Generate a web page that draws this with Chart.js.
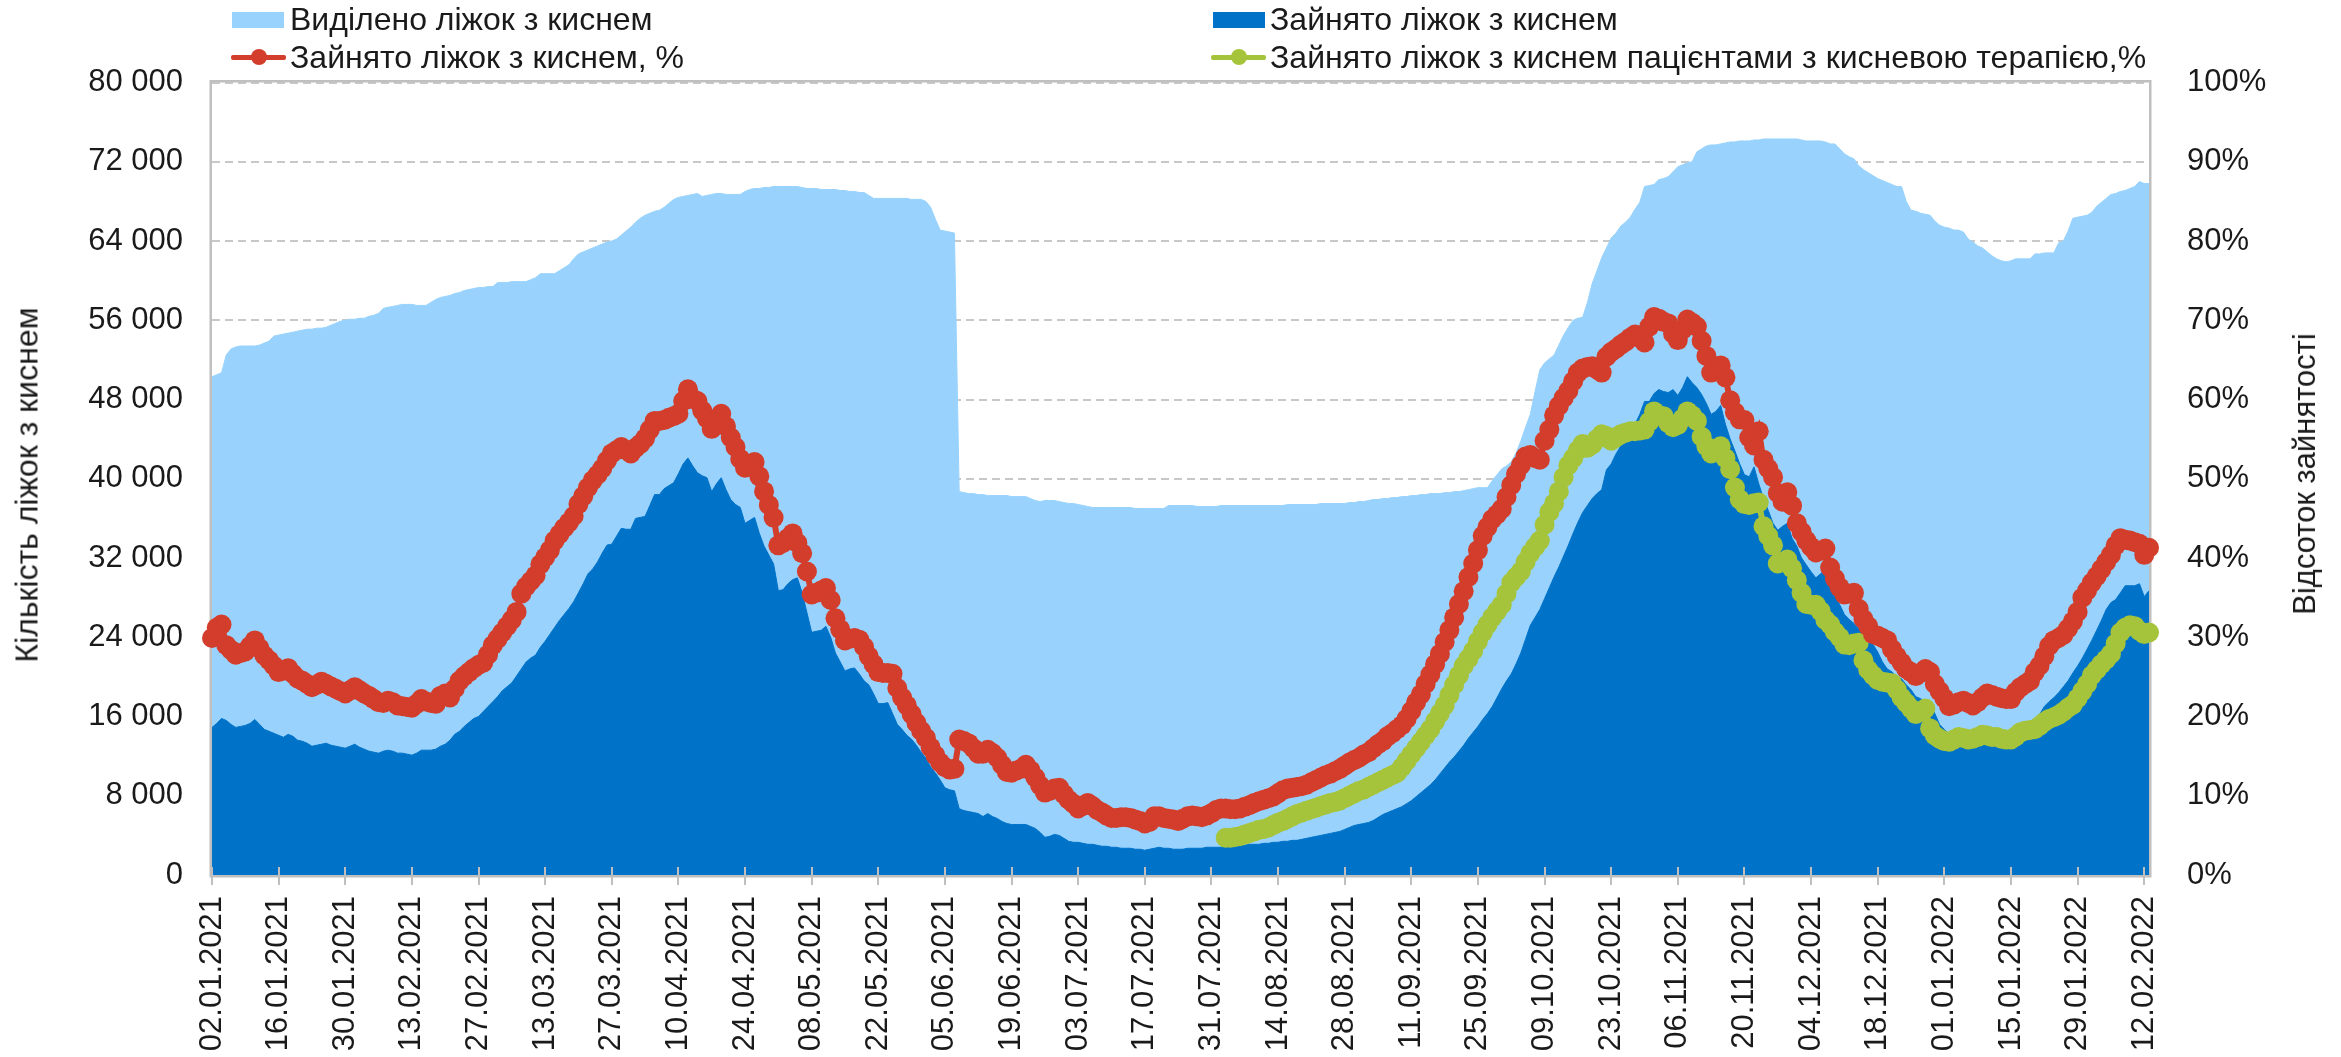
<!DOCTYPE html>
<html lang="uk">
<head>
<meta charset="utf-8">
<title>Ліжка з киснем</title>
<script src="https://cdn.jsdelivr.net/npm/chart.js@4.4.2/dist/chart.umd.min.js"></script>
<style>
  html, body { margin: 0; padding: 0; background: #fff; overflow: hidden; }
  #wrap { position: relative; width: 2341px; height: 1057px; font-family: 'Liberation Sans', Arial, sans-serif; color: #1a1a1a; }
  #chart { position: absolute; left: 0; top: 0; }
  .legend-item { position: absolute; height: 36px; display: flex; align-items: center; font-size: 32px; white-space: nowrap; }
  .swatch { width: 52px; height: 16px; margin-right: 6px; }
  .marker { position: relative; width: 55px; height: 16px; margin-right: 4px; }
  .marker::before { content: ''; position: absolute; left: 0; right: 0; top: 5.5px; height: 5px; border-radius: 2px; background: currentColor; }
  .marker::after { content: ''; position: absolute; left: 19.5px; top: 0; width: 16px; height: 16px; border-radius: 50%; background: currentColor; }
  .axis-title { position: absolute; white-space: nowrap; transform: translate(-50%, -50%) rotate(-90deg); }
</style>
</head>
<body>
<div id="wrap">
  <canvas id="chart" width="2341" height="1057"></canvas>
  <div class="legend-item" style="left:232px; top:1.5px;"><span class="swatch" style="background:#99d3fd"></span>Виділено ліжок з киснем</div>
  <div class="legend-item" style="left:231px; top:39px;"><span class="marker" style="color:#d33d2b"></span>Зайнято ліжок з киснем, %</div>
  <div class="legend-item" style="left:1213px; top:1.5px;"><span class="swatch" style="background:#0073c9; margin-right:5px"></span>Зайнято ліжок з киснем</div>
  <div class="legend-item" style="left:1211px; top:39px;"><span class="marker" style="color:#a6c43b"></span>Зайнято ліжок з киснем пацієнтами з кисневою терапією,%</div>
  <div class="axis-title" style="left:27px; top:485px; font-size:32px;">Кількість ліжок з киснем</div>
  <div class="axis-title" style="left:2305px; top:474px; font-size:31px;">Відсоток зайнятості</div>
</div>
<script>
const START_DAY = { year: 2021, month: 0, day: 2 };
const N_DAYS = 408;
const TICK_EVERY = 14;

// beds with oxygen supply, allocated
const allocatedBeds = [
  50300, 50500, 50700, 52500, 53100, 53300, 53400, 53400, 53400, 53400, 53500, 53700, 53900, 54400,
  54500, 54600, 54700, 54800, 54900, 55000, 55100, 55100, 55200, 55200, 55300, 55500, 55700, 55900,
  56000, 56100, 56100, 56200, 56200, 56400, 56500, 56700, 57200, 57300, 57400, 57500, 57600, 57600,
  57600, 57500, 57500, 57500, 57800, 58100, 58300, 58400, 58500, 58700, 58800, 59000, 59100, 59200,
  59300, 59300, 59400, 59400, 59800, 59800, 59800, 59900, 59900, 59900, 59900, 60100, 60300, 60700,
  60700, 60700, 60700, 61000, 61300, 61600, 62200, 62700, 62900, 63100, 63300, 63500, 63700, 63900,
  64000, 64200, 64600, 65000, 65400, 65900, 66300, 66600, 66800, 67000, 67100, 67400, 67800, 68200,
  68400, 68500, 68600, 68700, 68800, 68500, 68600, 68700, 68800, 68800, 68700, 68700, 68700, 68700,
  69000, 69200, 69300, 69300, 69400, 69400, 69500, 69500, 69500, 69500, 69500, 69500, 69400, 69300,
  69300, 69300, 69200, 69200, 69200, 69200, 69100, 69100, 69000, 69000, 68900, 68900, 68600, 68300,
  68300, 68300, 68300, 68300, 68300, 68300, 68300, 68200, 68200, 68200, 68000, 67400, 66200, 65100,
  65000, 64900, 64800, 38700, 38600, 38500, 38500, 38400, 38400, 38300, 38300, 38300, 38300, 38300,
  38200, 38200, 38200, 38200, 38000, 37800, 37700, 37800, 37800, 37800, 37700, 37600, 37500, 37500,
  37400, 37300, 37200, 37100, 37100, 37100, 37100, 37100, 37100, 37100, 37100, 37100, 37000, 37000,
  37000, 37000, 37000, 37000, 37000, 37300, 37300, 37300, 37300, 37300, 37300, 37200, 37200, 37200,
  37200, 37200, 37300, 37300, 37300, 37300, 37300, 37300, 37300, 37300, 37300, 37300, 37300, 37300,
  37300, 37300, 37400, 37400, 37400, 37400, 37400, 37400, 37400, 37500, 37500, 37500, 37500, 37500,
  37500, 37600, 37600, 37700, 37700, 37800, 37900, 37900, 38000, 38000, 38100, 38100, 38200, 38200,
  38300, 38300, 38400, 38400, 38500, 38500, 38500, 38600, 38600, 38700, 38700, 38800, 38900, 39000,
  39100, 39100, 39100, 39800, 40400, 41000, 41300, 41700, 42600, 43800, 45200, 46500, 48800, 51000,
  51700, 52100, 52500, 53500, 54500, 55300, 56000, 56200, 56300, 57800, 59700, 61000, 62300, 63300,
  64300, 64800, 65500, 65900, 66400, 67200, 67900, 69500, 69600, 69700, 70200, 70300, 70500, 71000,
  71500, 71700, 71900, 72000, 73000, 73300, 73600, 73700, 73700, 73800, 73900, 74000, 74000, 74100,
  74100, 74100, 74200, 74200, 74300, 74300, 74300, 74300, 74300, 74300, 74300, 74300, 74200, 74100,
  74100, 74100, 74100, 74000, 73800, 73800, 73300, 72800, 72500, 72300, 71600, 71200, 70900, 70600,
  70300, 70100, 69900, 69700, 69500, 69500, 68000, 67100, 67000, 66800, 66700, 66600, 66000, 65600,
  65400, 65300, 65100, 65100, 64900, 64200, 63900, 63500, 63300, 62900, 62500, 62200, 62000, 61900,
  62000, 62200, 62200, 62200, 62200, 62700, 62700, 62800, 62800, 62800, 63800, 64000, 65000, 66300,
  66400, 66500, 66600, 66900, 67500, 67900, 68300, 68700, 68800, 69000, 69100, 69300, 69500, 70000,
  69800, 69800
];

// beds with oxygen supply, occupied
const occupiedBeds = [
  14900, 15300, 15800, 15600, 15200, 14900, 15000, 15100, 15300, 15700, 15200, 14700, 14500, 14300,
  14100, 13900, 14200, 14000, 13600, 13500, 13300, 13000, 13100, 13200, 13300, 13100, 13000, 12900,
  12800, 13000, 13200, 12900, 12700, 12500, 12400, 12300, 12500, 12600, 12500, 12300, 12300, 12200,
  12100, 12300, 12600, 12600, 12600, 12700, 13000, 13200, 13600, 14200, 14500, 15000, 15400, 15800,
  16000, 16500, 17000, 17500, 18000, 18600, 19000, 19400, 20100, 20800, 21500, 21900, 22200, 23000,
  23600, 24300, 25000, 25700, 26300, 26900, 27600, 28500, 29400, 30400, 30900, 31600, 32500, 33300,
  33400, 34200, 35000, 34900, 34900, 36000, 36100, 36200, 37300, 38400, 38400, 39000, 39300, 39600,
  40500, 41500, 42100, 41300, 40600, 40300, 40100, 38700, 39500, 40100, 38900, 37900, 37400, 37100,
  35500, 35800, 36100, 34500, 33200, 32300, 31400, 28700, 28800, 29400, 29800, 30000, 28500, 26500,
  24500, 24600, 24700, 25100, 24000, 22400, 21500, 20600, 20800, 20900, 20300, 19600, 19200, 18300,
  17300, 17300, 17400, 16300, 15200, 14700, 14100, 13700, 13100, 12400, 11800, 10900, 10300, 9600,
  8800, 8600, 8500, 6700, 6500, 6400, 6300, 6200, 5900, 6200, 5900, 5700, 5400, 5200,
  5100, 5100, 5100, 5100, 4900, 4700, 4300, 3800, 3900, 4100, 4000, 3700, 3400, 3300,
  3300, 3200, 3100, 3100, 3000, 2900, 2900, 2800, 2800, 2700, 2700, 2700, 2600, 2600,
  2500, 2600, 2700, 2800, 2700, 2700, 2600, 2600, 2600, 2700, 2700, 2700, 2700, 2800,
  2800, 2800, 2800, 2900, 2900, 2900, 3000, 3000, 3100, 3100, 3100, 3200, 3200, 3300,
  3300, 3400, 3400, 3500, 3500, 3600, 3700, 3800, 3900, 4000, 4100, 4200, 4300, 4400,
  4600, 4800, 5000, 5100, 5200, 5300, 5500, 5800, 6100, 6300, 6500, 6700, 6900, 7200,
  7500, 7900, 8300, 8700, 9100, 9600, 10200, 10800, 11400, 11900, 12500, 13100, 13800, 14400,
  15000, 15700, 16300, 17000, 17900, 18800, 19600, 20300, 21300, 22400, 23800, 25200, 26000, 26800,
  27900, 29000, 30100, 31100, 32200, 33300, 34500, 35600, 36600, 37300, 38000, 38500, 38900, 40900,
  41500, 42500, 43300, 44300, 44900, 45500, 46500, 47800, 47800, 48600, 49000, 48800, 48700, 49000,
  48400, 49200, 50300, 49700, 49200, 48500, 47600, 46500, 46800, 47400, 45500, 44000, 42800, 41500,
  40400, 40200, 41200, 39500, 38000, 36800, 35500, 34800, 35200, 35500, 34000, 33200, 32000, 31300,
  30600, 30000, 30400, 30900, 29500, 28300, 27300, 26300, 25800, 25400, 24900, 24500, 23900, 23300,
  22500, 21500, 20800, 20500, 20000, 19800, 19200, 18700, 18000, 17800, 17500, 17300, 16300, 15200,
  14700, 14200, 14100, 13900, 13900, 14100, 14300, 14400, 14000, 13800, 14000, 14200, 14400, 14100,
  13900, 13900, 14500, 15300, 15500, 15800, 16200, 17000, 17500, 17900, 18400, 19000, 19600, 20400,
  21100, 21900, 22800, 23700, 24700, 25700, 26800, 27500, 27800, 28500, 29200, 29200, 29200, 29400,
  28100, 28700
];

// occupancy of beds with oxygen, %
const occupiedPct = [
  29.9, 31.2, 31.6, 29.0, 28.4, 27.8, 28.0, 28.2, 28.9, 29.6, 28.6, 27.7, 27.1, 26.4,
  25.6, 25.8, 26.1, 25.4, 24.8, 24.5, 24.1, 23.7, 24.0, 24.4, 24.1, 23.8, 23.5, 23.2,
  22.9, 23.3, 23.7, 23.3, 22.9, 22.6, 22.2, 21.8, 21.7, 22.0, 21.8, 21.4, 21.3, 21.2,
  21.1, 21.6, 22.2, 21.9, 21.7, 21.6, 22.6, 22.9, 22.4, 23.5, 24.5, 25.1, 25.6, 26.1,
  26.5, 26.8, 27.8, 29.0, 29.8, 30.6, 31.4, 32.2, 33.2, 35.5, 36.4, 37.1, 37.8, 39.2,
  40.1, 41.0, 42.2, 43.0, 43.8, 44.5, 45.3, 46.8, 47.8, 48.9, 49.8, 50.5, 51.3, 52.3,
  53.2, 53.6, 54.0, 53.6, 53.2, 53.9, 54.4, 55.1, 56.2, 57.3, 57.3, 57.4, 57.7, 57.9,
  58.2, 59.8, 61.3, 60.1, 59.8, 58.6, 57.6, 56.3, 57.3, 58.2, 56.6, 55.2, 54.0, 52.5,
  51.4, 51.6, 52.1, 50.3, 48.4, 46.7, 45.1, 41.6, 41.9, 42.5, 43.1, 41.9, 40.6, 38.3,
  35.4, 35.6, 35.9, 36.2, 34.7, 32.4, 31.0, 29.6, 29.8, 29.9, 29.7, 28.8, 27.6, 26.6,
  25.6, 25.5, 25.5, 25.4, 23.6, 22.4, 21.4, 20.3, 19.2, 18.2, 17.3, 16.1, 15.1, 14.2,
  13.6, 13.3, 13.4, 17.1, 16.9, 16.6, 16.0, 15.3, 15.3, 15.8, 15.4, 14.8, 13.9, 13.0,
  12.9, 13.2, 13.4, 13.9, 13.2, 12.3, 11.3, 10.4, 10.6, 10.9, 11.0, 10.2, 9.5, 9.0,
  8.4, 8.7, 9.1, 8.7, 8.2, 7.9, 7.5, 7.2, 7.2, 7.3, 7.3, 7.2, 7.0, 6.8,
  6.5, 6.7, 7.4, 7.4, 7.2, 7.1, 7.0, 6.8, 7.1, 7.4, 7.5, 7.4, 7.3, 7.5,
  7.8, 8.2, 8.4, 8.4, 8.3, 8.3, 8.4, 8.6, 8.8, 9.1, 9.3, 9.5, 9.7, 9.9,
  10.3, 10.7, 10.9, 11.0, 11.1, 11.2, 11.4, 11.7, 12.0, 12.3, 12.6, 12.8, 13.1, 13.4,
  13.8, 14.2, 14.5, 14.8, 15.2, 15.5, 16.0, 16.5, 16.9, 17.5, 17.9, 18.4, 18.9, 19.7,
  20.7, 21.8, 22.8, 24.1, 25.3, 26.6, 27.9, 29.4, 30.9, 32.5, 34.2, 35.8, 37.6, 39.3,
  41.0, 42.8, 43.9, 44.9, 45.5, 46.2, 47.7, 49.2, 50.6, 51.7, 52.8, 53.0, 52.6, 52.4,
  54.8, 56.2, 58.0, 59.2, 60.2, 61.1, 62.3, 63.4, 63.9, 64.1, 64.2, 63.8, 63.4, 65.4,
  66.0, 66.4, 66.9, 67.3, 67.8, 68.2, 67.8, 67.2, 69.2, 70.4, 70.2, 69.8, 69.6, 68.3,
  67.5, 68.8, 70.1, 69.7, 69.2, 67.4, 65.5, 63.4, 63.8, 64.3, 62.8, 59.9, 58.4, 57.5,
  57.4, 55.2, 54.2, 56.0, 52.4, 51.3, 50.2, 48.2, 47.1, 48.3, 46.6, 44.4, 43.3, 42.2,
  41.4, 40.7, 40.9, 41.2, 38.8, 37.4, 36.3, 35.4, 35.5, 35.6, 33.6, 32.3, 31.4, 30.4,
  30.2, 29.9, 29.6, 28.5, 27.6, 26.8, 26.0, 25.6, 25.1, 25.5, 26.0, 25.6, 24.1, 23.2,
  22.3, 21.3, 21.5, 21.8, 22.0, 21.7, 21.4, 21.8, 22.4, 22.9, 22.7, 22.5, 22.3, 22.2,
  22.2, 23.1, 23.7, 24.1, 24.5, 25.6, 26.4, 27.6, 28.9, 29.6, 29.9, 30.3, 31.1, 32.0,
  33.2, 35.0, 35.9, 36.9, 37.7, 38.6, 39.5, 40.4, 41.6, 42.5, 42.3, 42.2, 42.0, 41.8,
  40.4, 41.3
];

// occupied by patients on oxygen therapy, %; reported from 03.08.2021 (day index 213)
const OXYGEN_FIRST_DAY = 213;
const oxygenTherapyPct = [
  4.7, 4.7, 4.8, 4.9, 5.1, 5.3, 5.5, 5.7, 5.8, 6.0, 6.3,
  6.6, 6.8, 7.1, 7.4, 7.7, 7.9, 8.1, 8.3, 8.5, 8.7, 8.9, 9.1, 9.2, 9.4,
  9.7, 10.0, 10.3, 10.6, 10.8, 11.1, 11.4, 11.7, 12.0, 12.3, 12.6, 12.9, 13.6, 14.4,
  15.2, 16.0, 16.8, 17.6, 18.4, 19.4, 20.4, 21.4, 22.7, 24.0, 25.2, 26.4, 27.3, 28.3,
  29.5, 30.6, 31.6, 32.5, 33.3, 34.1, 35.5, 36.9, 37.6, 38.3, 39.5, 40.6, 41.4, 42.2,
  44.2, 45.8, 46.9, 48.4, 50.2, 51.7, 52.6, 53.6, 54.4, 53.9, 54.3, 55.0, 55.6, 55.4,
  54.8, 55.2, 55.6, 55.8, 56.0, 56.0, 56.1, 56.2, 57.2, 58.5, 58.0, 57.9, 57.0, 56.5,
  56.8, 57.6, 58.5, 58.0, 57.3, 55.3, 54.1, 53.2, 53.5, 54.1, 52.6, 51.2, 48.9, 47.4,
  46.8, 46.7, 46.9, 47.0, 44.0, 42.8, 41.6, 39.3, 39.5, 39.8, 38.7, 37.2, 35.6, 34.2,
  34.1, 34.1, 33.3, 32.2, 31.6, 30.7, 30.0, 29.1, 29.0, 29.2, 29.3, 27.1, 25.9, 25.2,
  24.6, 24.4, 24.3, 24.2, 23.4, 22.4, 21.7, 21.0, 20.3, 20.6, 21.0, 18.5, 17.6, 17.2,
  16.9, 16.8, 17.1, 17.4, 17.3, 17.1, 17.2, 17.4, 17.7, 17.6, 17.4, 17.4, 17.2, 17.1,
  17.1, 17.5, 18.0, 18.2, 18.3, 18.4, 18.8, 19.3, 19.7, 19.9, 20.2, 20.6, 21.1, 21.5,
  22.3, 23.2, 24.1, 25.2, 25.9, 26.6, 27.2, 27.9, 29.2, 30.6, 31.2, 31.5, 31.4, 30.8,
  30.4, 30.6
];

const COLORS = {
  allocated: '#99d3fd',
  occupied: '#0073c9',
  occupiedPct: '#d33d2b',
  oxygenPct: '#a6c43b',
  frame: '#bfbfbf',
  grid: '#c8c8c8',
  text: '#1a1a1a'
};
const TICK_FONT = { family: "'Liberation Sans', Arial, sans-serif", size: 31 };

const pad2 = n => String(n).padStart(2, '0');
const labels = [];
for (let i = 0; i < N_DAYS; i++) {
  const d = new Date(START_DAY.year, START_DAY.month, START_DAY.day + i);
  labels.push(`${pad2(d.getDate())}.${pad2(d.getMonth() + 1)}.${d.getFullYear()}`);
}
const oxygenSeries = labels.map((_, i) => i < OXYGEN_FIRST_DAY ? null : oxygenTherapyPct[i - OXYGEN_FIRST_DAY]);

const thousands = v => String(v).replace(/\B(?=(\d{3})+(?!\d))/g, ' ');

// plot frame behind the lines, and tick marks crossing the date axis
const frame = {
  id: 'frame',
  beforeDatasetsDraw(chart) {
    const { ctx, chartArea: a } = chart;
    ctx.save();
    ctx.strokeStyle = COLORS.frame;
    ctx.lineWidth = 2.5;
    ctx.strokeRect(a.left - 1.25, a.top - 1.25, a.right - a.left + 2.5, a.bottom - a.top + 2.5);
    ctx.restore();
  },
  afterDatasetsDraw(chart) {
    const { ctx, chartArea: a, scales: { x } } = chart;
    ctx.save();
    ctx.strokeStyle = COLORS.frame;
    ctx.lineWidth = 2;
    ctx.beginPath();
    for (let i = 0; i < labels.length; i += TICK_EVERY) {
      const px = Math.round(x.getPixelForValue(i));
      ctx.moveTo(px, a.bottom - 8);
      ctx.lineTo(px, a.bottom + 10);
    }
    ctx.stroke();
    ctx.restore();
  }
};

const lineDataset = (label, data, color, order) => ({
  label,
  data,
  yAxisID: 'y1',
  borderColor: color,
  backgroundColor: color,
  borderWidth: 6,
  pointRadius: 10,
  pointBorderWidth: 0,
  pointBackgroundColor: color,
  fill: false,
  tension: 0,
  clip: false,
  order
});

new Chart(document.getElementById('chart'), {
  type: 'line',
  data: {
    labels,
    datasets: [
      {
        label: 'Виділено ліжок з киснем',
        data: allocatedBeds,
        yAxisID: 'y',
        fill: 'origin',
        backgroundColor: COLORS.allocated,
        borderColor: COLORS.allocated,
        borderWidth: 1,
        pointRadius: 0,
        order: 4
      },
      {
        label: 'Зайнято ліжок з киснем',
        data: occupiedBeds,
        yAxisID: 'y',
        fill: 'origin',
        backgroundColor: COLORS.occupied,
        borderColor: COLORS.occupied,
        borderWidth: 1,
        pointRadius: 0,
        order: 3
      },
      lineDataset('Зайнято ліжок з киснем пацієнтами з кисневою терапією,%', oxygenSeries, COLORS.oxygenPct, 2),
      lineDataset('Зайнято ліжок з киснем, %', occupiedPct, COLORS.occupiedPct, 1)
    ]
  },
  options: {
    responsive: false,
    animation: false,
    events: [],
    layout: {
      padding: { top: 82.5, left: 0, right: 0, bottom: 0 }
    },
    plugins: {
      legend: { display: false },
      tooltip: { enabled: false }
    },
    scales: {
      x: {
        type: 'category',
        offset: false,
        grid: { display: false },
        border: { display: false },
        ticks: {
          autoSkip: false,
          minRotation: 90,
          maxRotation: 90,
          padding: 13,
          color: COLORS.text,
          font: TICK_FONT,
          callback: function(value, index) {
            return index % TICK_EVERY === 0 ? this.getLabelForValue(value) : null;
          }
        },
        afterFit: scale => { scale.height = 182; }
      },
      y: {
        position: 'left',
        min: 0,
        max: 80000,
        grid: { color: COLORS.grid, lineWidth: 2, drawTicks: false },
        border: { display: false, dash: [8, 5] },
        ticks: {
          stepSize: 8000,
          padding: 29,
          color: COLORS.text,
          font: TICK_FONT,
          callback: v => thousands(v)
        },
        afterFit: scale => { scale.width = 212; }
      },
      y1: {
        position: 'right',
        min: 0,
        max: 100,
        grid: { display: false },
        border: { display: false },
        ticks: {
          stepSize: 10,
          padding: 30,
          color: COLORS.text,
          font: TICK_FONT,
          callback: v => v + '%'
        },
        afterFit: scale => { scale.width = 192; }
      }
    }
  },
  plugins: [frame]
});
</script>
</body>
</html>
